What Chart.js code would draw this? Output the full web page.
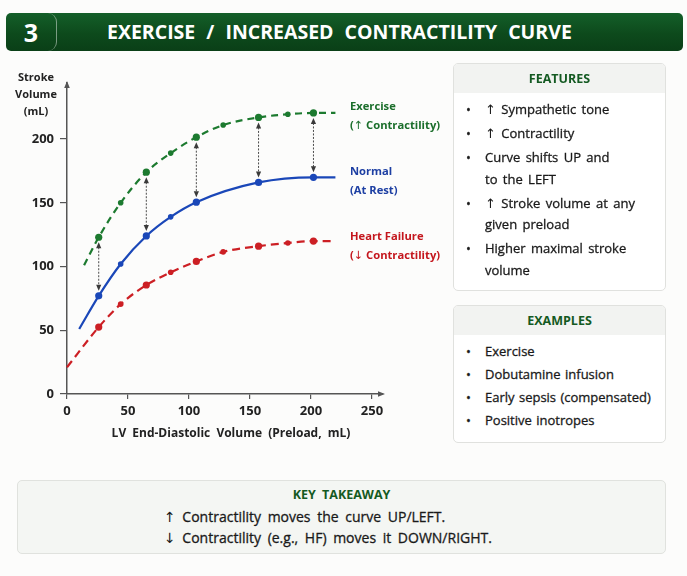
<!DOCTYPE html>
<html>
<head>
<meta charset="utf-8">
<script src="https://cdn.jsdelivr.net/npm/chart.js@4.4.0/dist/chart.umd.min.js"></script>
<style>
  body { margin: 0; width: 687px; height: 576px; background: #fcfcfb; font-family: "Open Sans", sans-serif; color: #1a1a1a; position: relative; overflow: hidden; }
  .abs { position: absolute; }
  .ar { font-family: "DejaVu Sans", sans-serif; font-weight: 400; -webkit-text-stroke: 0; }
  #banner { left: 6px; top: 13px; width: 677px; height: 38px; border-radius: 5px; background: linear-gradient(180deg, #145f29 0%, #0d4a1c 55%, #0a3f17 100%); }
  #num { left: 0; top: 0; width: 50px; height: 38px; line-height: 38px; text-align: center; color: #fff; font-weight: 700; font-size: 25px; border-right: 1.5px solid rgba(255,255,255,0.45); border-radius: 0 9px 9px 0; }
  #ttl { left: 101px; top: 0; line-height: 38px; color: #fff; font-weight: 700; font-size: 19.5px; word-spacing: 6px; white-space: nowrap; }
  #chartBox { left: 0; top: 60px; width: 450px; height: 400px; }
  .axisT { font-weight: 700; font-size: 11px; color: #222; text-align: center; line-height: 17px; }
  .xT { font-weight: 700; font-size: 12px; color: #222; word-spacing: 3px; white-space: nowrap; text-align: center; }
  .lbl { left: 350px; font-weight: 700; font-size: 11.2px; line-height: 19px; white-space: nowrap; word-spacing: 0; }
  .card { border: 1px solid #e0e1de; border-radius: 5px; background: #fff; overflow: hidden; }
  .card .hd { height: 29px; line-height: 29px; background: #f2f3f1; text-align: center; color: #145a22; font-weight: 700; font-size: 12.5px; }
  .item { display: flex; font-size: 13px; line-height: 21.5px; margin-bottom: 2.5px; white-space: nowrap; word-spacing: 2px; -webkit-text-stroke: 0.3px #1a1a1a; }
  .item .b { width: 19px; padding-left: 12px; flex: none; }
  #ex .item { line-height: 23px; margin-bottom: 0; word-spacing: 1px; }
  #key { left: 17px; top: 480px; width: 647px; height: 72px; border: 1px solid #e0e2de; border-radius: 5px; background: #f4f6f3; }
  #key .hd { position: absolute; left: 0; width: 100%; top: 5px; text-align: center; color: #145a22; font-weight: 700; font-size: 12.5px; word-spacing: 3px; }
  #key .ln { position: absolute; left: 146px; font-size: 14px; line-height: 21px; white-space: nowrap; word-spacing: 3px; -webkit-text-stroke: 0.3px #1a1a1a; }
</style>
</head>
<body>
<div id="banner" class="abs">
  <div id="num" class="abs">3</div>
  <div id="ttl" class="abs">EXERCISE / INCREASED CONTRACTILITY CURVE</div>
</div>

<div id="chartBox" class="abs"><canvas id="curveChart"></canvas></div>

<div class="abs axisT" style="left:10px; top:68px; width:52px;">Stroke<br>Volume<br>(mL)</div>
<div class="abs xT" style="left:31px; top:424px; width:400px;">LV End-Diastolic Volume (Preload, mL)</div>

<div class="abs lbl" style="top:96px; color:#1b6e2b;">Exercise<br>(<span class="ar">↑</span> Contractility)</div>
<div class="abs lbl" style="top:161px; color:#1d3fa3;">Normal<br>(At Rest)</div>
<div class="abs lbl" style="top:226px; color:#c4161d;">Heart Failure<br>(<span class="ar">↓</span> Contractility)</div>

<div class="abs card" style="left:453px; top:63px; width:211px; height:226px;">
  <div class="hd">FEATURES</div>
  <div style="padding-top:6px;">
    <div class="item"><span class="b">•</span><span><span class="ar">↑</span> Sympathetic tone</span></div>
    <div class="item"><span class="b">•</span><span><span class="ar">↑</span> Contractility</span></div>
    <div class="item"><span class="b">•</span><span>Curve shifts UP and<br>to the LEFT</span></div>
    <div class="item"><span class="b">•</span><span><span class="ar">↑</span> Stroke volume at any<br>given preload</span></div>
    <div class="item"><span class="b">•</span><span>Higher maximal stroke<br>volume</span></div>
  </div>
</div>

<div id="ex" class="abs card" style="left:453px; top:305px; width:211px; height:136px;">
  <div class="hd">EXAMPLES</div>
  <div style="padding-top:5px;">
    <div class="item"><span class="b">•</span><span>Exercise</span></div>
    <div class="item"><span class="b">•</span><span>Dobutamine infusion</span></div>
    <div class="item"><span class="b">•</span><span>Early sepsis (compensated)</span></div>
    <div class="item"><span class="b">•</span><span>Positive inotropes</span></div>
  </div>
</div>

<div id="key" class="abs">
  <div class="hd">KEY TAKEAWAY</div>
  <div class="ln" style="top:25px;"><span class="ar">↑</span> Contractility moves the curve UP/LEFT.</div>
  <div class="ln" style="top:46px;"><span class="ar">↓</span> Contractility (e.g., HF) moves it DOWN/RIGHT.</div>
</div>

<script>
// preload (mL) and stroke volume (mL)
var exerciseX = [14, 26, 44, 65, 85, 106, 128, 157, 181, 202, 220];
var exerciseY = [101, 123, 150, 174, 189, 201.5, 211, 217, 219.5, 220.5, 220.5];
var normalX = [10, 26, 44, 65, 85, 106, 157, 202, 220];
var normalY = [51, 77, 102, 124, 139, 150.5, 166, 170, 170];
var failureX = [0, 26, 44, 65, 85, 106, 128, 157, 181, 202, 220];
var failureY = [21, 52.5, 70.5, 85.5, 95.5, 104, 111.5, 116, 118.5, 120, 120];
// preloads where the shift arrows are drawn
var arrowAt = [26, 65, 106, 157, 202];
var xTicks = [0, 50, 100, 150, 200, 250];
var yTicks = [0, 50, 100, 150, 200];

function toPoints(xs, ys) {
    return xs.map(function(x, i) { return { x: x, y: ys[i] }; });
}

function radiusFor(xs) {
    return function(c) {
        var i = c.dataIndex;
        if (i === 0 || i === xs.length - 1) return 0;
        return arrowAt.indexOf(xs[i]) >= 0 ? 3.6 : 2.8;
    };
}

function curve(label, xs, ys, color, dash) {
    return {
        label: label,
        data: toPoints(xs, ys),
        borderColor: color,
        backgroundColor: color,
        borderWidth: 2.2,
        borderDash: dash,
        pointRadius: radiusFor(xs),
        pointBorderWidth: 0,
        cubicInterpolationMode: 'monotone',
        clip: false
    };
}

function arrowHead(ctx, x, y, dir) {
    ctx.beginPath();
    ctx.moveTo(x, y);
    ctx.lineTo(x - 2.6, y + dir * 6);
    ctx.lineTo(x + 2.6, y + dir * 6);
    ctx.closePath();
    ctx.fill();
}

// dotted double arrows between exercise and normal curves
var shiftArrows = {
    id: 'shiftArrows',
    afterDatasetsDraw: function(chart) {
        var ctx = chart.ctx;
        var up = chart.getDatasetMeta(0).data;
        var mid = chart.getDatasetMeta(1).data;
        ctx.save();
        ctx.strokeStyle = '#4a4a4a';
        ctx.fillStyle = '#3a3a3a';
        ctx.lineWidth = 1;
        arrowAt.forEach(function(x) {
            var a = up[exerciseX.indexOf(x)];
            var b = mid[normalX.indexOf(x)];
            var y1 = a.y + 5, y2 = b.y - 5;
            ctx.setLineDash([2, 1.5]);
            ctx.beginPath();
            ctx.moveTo(a.x, y1 + 5);
            ctx.lineTo(a.x, y2 - 5);
            ctx.stroke();
            ctx.setLineDash([]);
            arrowHead(ctx, a.x, y1, 1);
            arrowHead(ctx, b.x, y2, -1);
        });
        ctx.restore();
    }
};

// arrow tips at the ends of both axes
var axisArrows = {
    id: 'axisArrows',
    afterDraw: function(chart) {
        var ctx = chart.ctx;
        var area = chart.chartArea;
        ctx.save();
        ctx.fillStyle = '#555';
        ctx.beginPath();
        ctx.moveTo(area.right + 2, area.bottom);
        ctx.lineTo(area.right - 5, area.bottom - 2.8);
        ctx.lineTo(area.right - 5, area.bottom + 2.8);
        ctx.closePath();
        ctx.fill();
        ctx.beginPath();
        ctx.moveTo(area.left, area.top - 2);
        ctx.lineTo(area.left - 2.8, area.top + 5);
        ctx.lineTo(area.left + 2.8, area.top + 5);
        ctx.closePath();
        ctx.fill();
        ctx.restore();
    }
};

var tickFont = { family: 'Open Sans', size: 13, weight: '700' };

new Chart(document.getElementById('curveChart'), {
    type: 'line',
    data: {
        datasets: [
            curve('Exercise', exerciseX, exerciseY, '#1c7a2f', [7, 5]),
            curve('Normal', normalX, normalY, '#1a47b8', []),
            curve('Heart Failure', failureX, failureY, '#cc1f24', [8, 5])
        ]
    },
    options: {
        responsive: true,
        maintainAspectRatio: false,
        animation: false,
        layout: { padding: { left: 0, right: 67, top: 23, bottom: 0 } },
        scales: {
            x: {
                type: 'linear',
                min: 0,
                max: 259,
                afterFit: function(s) { s.height = 66; },
                afterBuildTicks: function(s) { s.ticks = xTicks.map(function(v) { return { value: v }; }); },
                grid: { drawOnChartArea: false, drawTicks: true, tickLength: 5, color: '#555', lineWidth: 1.2 },
                border: { display: true, color: '#555', width: 1.5 },
                ticks: { font: tickFont, color: '#222', padding: 4, maxRotation: 0 }
            },
            y: {
                type: 'linear',
                min: 0,
                max: 244,
                afterFit: function(s) { s.width = 67; },
                afterBuildTicks: function(s) { s.ticks = yTicks.map(function(v) { return { value: v }; }); },
                grid: { drawOnChartArea: false, drawTicks: true, tickLength: 7, color: '#555', lineWidth: 1.2 },
                border: { display: true, color: '#555', width: 1.5 },
                ticks: { font: tickFont, color: '#222', padding: 6 }
            }
        },
        plugins: {
            legend: { display: false },
            tooltip: { enabled: false }
        }
    },
    plugins: [shiftArrows, axisArrows]
});
</script>
</body>
</html>
